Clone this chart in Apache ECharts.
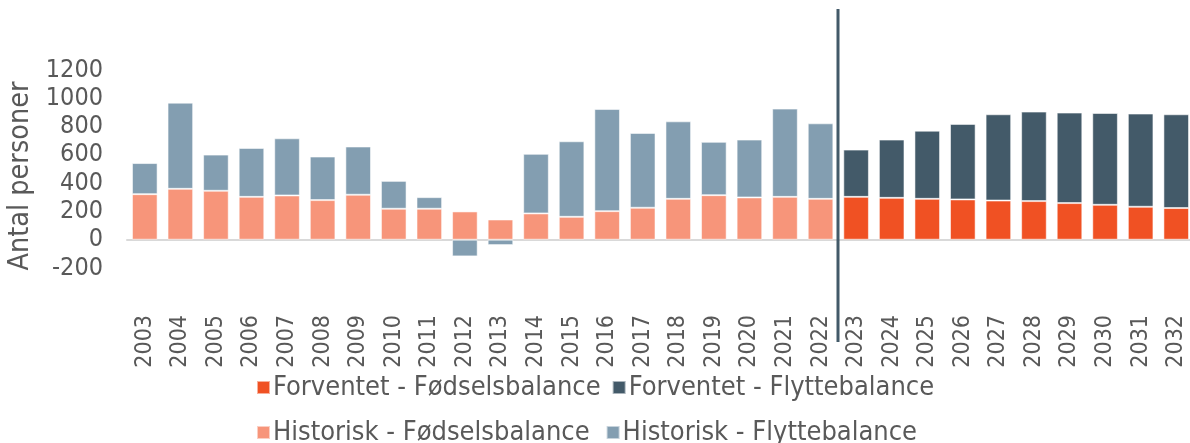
<!DOCTYPE html>
<html>
<head>
<meta charset="utf-8">
<script src="https://cdn.jsdelivr.net/npm/echarts@6/dist/echarts.min.js"></script>
<style>
  html, body { margin: 0; padding: 0; background: #fff; }
  #chart { width: 1190px; height: 443px; }
</style>
</head>
<body>
<div id="chart"></div>
<script>
const years = ["2003","2004","2005","2006","2007","2008","2009","2010","2011","2012",
  "2013","2014","2015","2016","2017","2018","2019","2020","2021","2022",
  "2023","2024","2025","2026","2027","2028","2029","2030","2031","2032"];

// historisk 2003-2022
const histFoedsel = [322,360,346,303,313,280,318,219,219,200,143,186,162,202,226,289,315,299,303,289];
const histFlytte = [220,609,256,346,404,308,341,197,82,-118,-38,421,534,722,529,548,377,409,624,534];
// forventet 2023-2032
const progFoedsel = [303,296,289,285,277,273,259,247,233,224];
const progFlytte = [334,412,482,534,610,633,640,649,659,663];

const yTicks = { min: -200, max: 1200, step: 200 };

const font = "DejaVu Sans Condensed";
const grey = "#595959";
const nHist = histFoedsel.length;
const blanks = (n) => Array(n).fill("-");

const chart = echarts.init(document.getElementById("chart"));

function barSeries(name, data, color) {
  return {
    name: name,
    type: "bar",
    stack: "total",
    barCategoryGap: "28%",
    data: data,
    itemStyle: { color: color, borderColor: "rgba(255,255,255,0.55)", borderWidth: 1 },
    emphasis: { disabled: true }
  };
}

chart.setOption({
  animation: false,
  textStyle: { fontFamily: font },
  grid: { left: 127, right: -4, top: 70, bottom: 175, containLabel: false, outerBoundsMode: "none" },
  legend: [
    {
      left: 251, top: 369,
      icon: "rect", itemWidth: 13, itemHeight: 13, itemGap: 11,
      textStyle: { fontFamily: font, fontSize: 27, color: grey, padding: [0, 0, 0, -2] },
      data: ["Forventet - Fødselsbalance", "Forventet - Flyttebalance"]
    },
    {
      left: 251, top: 414,
      icon: "rect", itemWidth: 13, itemHeight: 13, itemGap: 16,
      textStyle: { fontFamily: font, fontSize: 27, color: grey, padding: [0, 0, 0, -2] },
      data: ["Historisk - Fødselsbalance", "Historisk - Flyttebalance"]
    }
  ],
  xAxis: {
    type: "category",
    data: years,
    axisLine: { onZero: true, lineStyle: { color: "#D9D9D9", width: 2 } },
    axisTick: { show: false },
    axisLabel: { rotate: 90, interval: 0, margin: 47, fontSize: 23, color: grey, fontFamily: font }
  },
  yAxis: {
    type: "value",
    min: yTicks.min, max: yTicks.max, interval: yTicks.step,
    axisLine: { show: false },
    axisTick: { show: false },
    splitLine: { show: false },
    axisLabel: { fontSize: 25, color: grey, margin: 24, fontFamily: font, formatter: (v) => String(v) },
    name: "Antal personer",
    nameLocation: "middle",
    nameGap: 90,
    nameTextStyle: { fontSize: 28.5, color: grey, fontFamily: font, padding: [0, 0, 0, -14] }
  },
  series: [
    barSeries("Historisk - Fødselsbalance", histFoedsel.concat(blanks(progFoedsel.length)), "#F7957A"),
    barSeries("Historisk - Flyttebalance", histFlytte.concat(blanks(progFlytte.length)), "#839EB1"),
    barSeries("Forventet - Fødselsbalance", blanks(nHist).concat(progFoedsel), "#F05123"),
    barSeries("Forventet - Flyttebalance", blanks(nHist).concat(progFlytte), "#435A69")
  ]
});

// skillelinje mellem historisk og forventet
const xa = chart.convertToPixel({ xAxisIndex: 0 }, years[nHist - 1]);
const xb = chart.convertToPixel({ xAxisIndex: 0 }, years[nHist]);
const xm = Math.round((xa + xb) / 2);
chart.setOption({
  graphic: [{
    type: "line",
    shape: { x1: xm, y1: 9, x2: xm, y2: 342 },
    style: { stroke: "#435A69", lineWidth: 3 },
    z: 100
  }]
});
</script>
</body>
</html>
